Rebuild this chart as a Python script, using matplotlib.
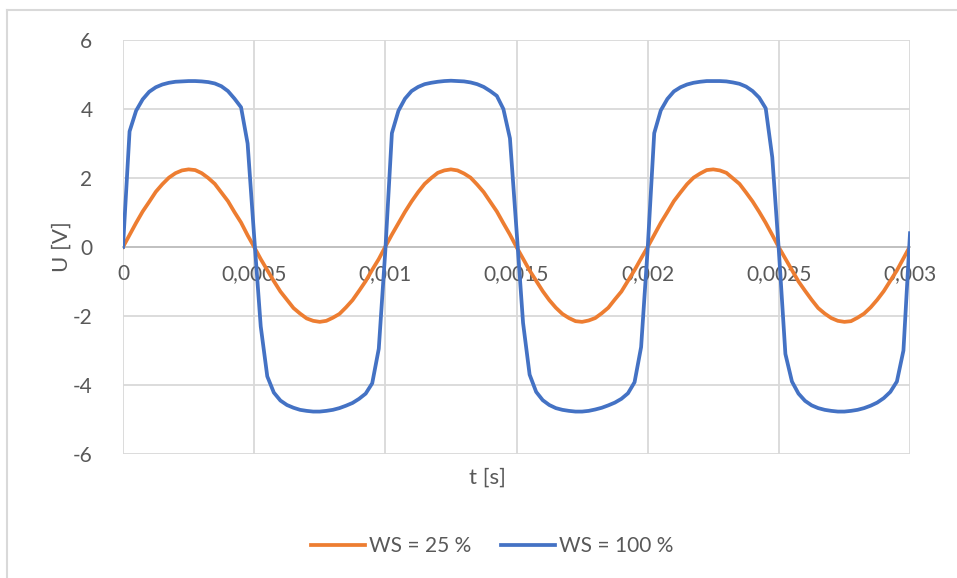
import numpy as np
import matplotlib
matplotlib.use("Agg")
import matplotlib.pyplot as plt
from matplotlib.lines import Line2D

# sample step of the scope data (25 us)
dt = 0.000025

ws25 = [
    0.0, 0.35, 0.70, 1.03, 1.31, 1.60, 1.82, 2.01, 2.14, 2.22, 2.25, 2.23, 2.14, 2.00, 1.83, 1.58, 1.33, 1.01, 0.71, 0.34,
    0.0, -0.35, -0.67, -0.99, -1.29, -1.53, -1.77, -1.93, -2.07, -2.14, -2.17, -2.14, -2.05, -1.94, -1.75, -1.54, -1.27, -0.99, -0.66, -0.35,
    0.01, 0.36, 0.69, 1.02, 1.32, 1.59, 1.83, 2.00, 2.15, 2.22, 2.25, 2.22, 2.13, 2.01, 1.81, 1.59, 1.31, 1.03, 0.69, 0.36,
    0.0, -0.34, -0.68, -0.98, -1.28, -1.54, -1.76, -1.94, -2.06, -2.15, -2.17, -2.13, -2.06, -1.92, -1.76, -1.52, -1.29, -0.98, -0.67, -0.33,
    0.0, 0.35, 0.70, 1.01, 1.33, 1.58, 1.82, 2.01, 2.13, 2.23, 2.25, 2.22, 2.15, 1.99, 1.83, 1.58, 1.32, 1.02, 0.70, 0.35,
    -0.01, -0.34, -0.67, -1.00, -1.27, -1.53, -1.77, -1.93, -2.06, -2.14, -2.17, -2.15, -2.05, -1.93, -1.75, -1.53, -1.28, -0.98, -0.68, -0.33,
    0.02,
]

ws100 = [
    0.0, 3.35, 3.95, 4.28, 4.50, 4.63, 4.71, 4.76, 4.79, 4.80, 4.81, 4.81, 4.80, 4.78, 4.74, 4.66, 4.52, 4.30, 4.05, 3.00,
    0.30, -2.30, -3.75, -4.22, -4.45, -4.58, -4.66, -4.72, -4.75, -4.77, -4.77, -4.75, -4.72, -4.67, -4.60, -4.52, -4.40, -4.25, -3.95, -2.95,
    -0.10, 3.30, 3.95, 4.30, 4.52, 4.64, 4.72, 4.76, 4.79, 4.81, 4.82, 4.81, 4.80, 4.77, 4.72, 4.64, 4.52, 4.38, 4.00, 3.15,
    0.50, -2.20, -3.70, -4.20, -4.44, -4.58, -4.67, -4.72, -4.75, -4.77, -4.77, -4.75, -4.71, -4.66, -4.59, -4.51, -4.40, -4.24, -3.92, -2.90,
    -0.05, 3.30, 3.96, 4.29, 4.51, 4.63, 4.71, 4.76, 4.79, 4.81, 4.81, 4.81, 4.80, 4.77, 4.73, 4.65, 4.52, 4.33, 4.02, 2.60,
    -0.10, -3.10, -3.90, -4.25, -4.46, -4.59, -4.67, -4.72, -4.75, -4.77, -4.77, -4.75, -4.72, -4.67, -4.60, -4.51, -4.38, -4.20, -3.90, -3.00,
    0.40,
]

labels = ["WS = 25 %", "WS = 100 %"]
colors = ["#ED7D31", "#4472C4"]
xticks = [0, 0.0005, 0.001, 0.0015, 0.002, 0.0025, 0.003]
xticklabels = ["0", "0,0005", "0,001", "0,0015", "0,002", "0,0025", "0,003"]
yticks = [-6, -4, -2, 0, 2, 4, 6]

t = np.arange(len(ws25)) * dt

plt.rcParams['font.family'] = ['Lato', 'DejaVu Sans']
plt.rcParams['axes.unicode_minus'] = False
txt = "#595959"
grid = "#d9d9d9"

fig = plt.figure(figsize=(9.57, 5.78), dpi=100)
ax = fig.add_axes([123/957, 1-454/578, (910-123)/957, (454-40)/578])

ax.plot(t, ws25, color=colors[0], lw=2.7, label=labels[0], zorder=3)
ax.plot(t, ws100, color=colors[1], lw=2.7, label=labels[1], zorder=4)

ax.set_xlim(0, 0.003)
ax.set_ylim(-6, 6)
ax.set_xticks(xticks)
ax.set_xticklabels(xticklabels)
ax.set_yticks(yticks)
ax.grid(True, color=grid, lw=1.3)
ax.set_axisbelow(True)
for s in ['top', 'right', 'left']:
    ax.spines[s].set_visible(False)
ax.spines['bottom'].set_position(('data', 0))
ax.spines['bottom'].set_color("#bfbfbf")
ax.spines['bottom'].set_linewidth(1.3)
ax.tick_params(length=0, labelsize=15, colors=txt)
ax.tick_params(axis='x', pad=12)
ax.tick_params(axis='y', pad=22)

fig.text(487/957, 1-478/578, "t [s]", ha='center', va='center', fontsize=16, color=txt)
fig.text(62/957, 1-247/578, "U [V]", ha='center', va='center', fontsize=16, color=txt, rotation=90)

fig.legend(loc='center', bbox_to_anchor=(492/957, 1-546/578), ncol=2, frameon=False,
           fontsize=15, handlelength=2.6, columnspacing=1.4, handletextpad=0.2,
           labelcolor=txt)

# chart area border (left and top edges visible)
fig.add_artist(Line2D([7.5/957, 7.5/957], [0, 1-10/578], transform=fig.transFigure, color=grid, lw=1.5))
fig.add_artist(Line2D([7.5/957, 1], [1-10/578, 1-10/578], transform=fig.transFigure, color=grid, lw=1.5))

fig.savefig("out.png", dpi=100)
